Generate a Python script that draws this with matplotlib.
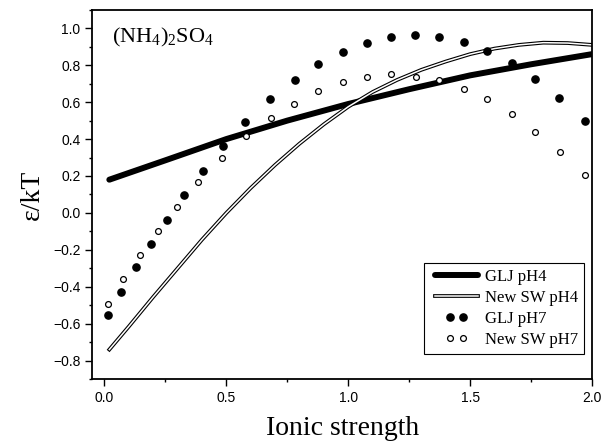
import numpy as np
import matplotlib.pyplot as plt
import matplotlib.patheffects as pe
from matplotlib.ticker import MultipleLocator
from matplotlib.legend_handler import HandlerLine2D

plt.rcParams['mathtext.fontset'] = 'custom'
plt.rcParams['mathtext.rm'] = 'Liberation Serif'
plt.rcParams['font.family'] = 'Liberation Sans'

# GLJ pH4 (thick solid line)
glj4_x = [0.02, 0.25, 0.5, 0.75, 1.0, 1.25, 1.5, 1.75, 2.0]
glj4_y = [0.18, 0.285, 0.40, 0.50, 0.59, 0.67, 0.745, 0.805, 0.86]

# New SW pH4 (hollow double line)
sw4_x = [0.02, 0.1, 0.2, 0.3, 0.4, 0.5, 0.6, 0.7, 0.8, 0.9, 1.0,
         1.1, 1.2, 1.3, 1.4, 1.5, 1.6, 1.7, 1.8, 1.9, 2.0]
sw4_y = [-0.74, -0.615, -0.455, -0.30, -0.145, 0.0, 0.135, 0.26, 0.375, 0.48, 0.575,
         0.655, 0.72, 0.775, 0.82, 0.86, 0.89, 0.91, 0.922, 0.92, 0.91]

# GLJ pH7 (filled dots)
glj7_x = [0.014, 0.068, 0.130, 0.189, 0.256, 0.327, 0.404, 0.486, 0.575, 0.678,
          0.780, 0.876, 0.979, 1.075, 1.175, 1.273, 1.373, 1.474, 1.570, 1.673,
          1.767, 1.866, 1.970]
glj7_y = [-0.555, -0.428, -0.294, -0.166, -0.036, 0.096, 0.228, 0.362, 0.492, 0.619,
          0.720, 0.805, 0.872, 0.922, 0.953, 0.964, 0.953, 0.926, 0.877, 0.814,
          0.723, 0.624, 0.497]

# New SW pH7 (hollow dots)
sw7_x = [0.016, 0.078, 0.146, 0.219, 0.298, 0.385, 0.482, 0.579, 0.682, 0.776,
         0.876, 0.979, 1.075, 1.177, 1.277, 1.373, 1.474, 1.570, 1.673, 1.766,
         1.869, 1.971]
sw7_y = [-0.491, -0.357, -0.229, -0.097, 0.031, 0.167, 0.295, 0.416, 0.516, 0.592,
         0.660, 0.709, 0.736, 0.751, 0.738, 0.718, 0.673, 0.615, 0.534, 0.440,
         0.329, 0.203]

fig = plt.figure(figsize=(6.11, 4.46), dpi=100)
ax = fig.add_axes([0.151, 0.150, 0.818, 0.828])

ax.plot(glj4_x, glj4_y, color='black', lw=4.3, solid_capstyle='round', label='GLJ pH4')
ax.plot(sw4_x, sw4_y, color='white', lw=1.1, label='New SW pH4',
        path_effects=[pe.Stroke(linewidth=2.7, foreground='black'), pe.Normal()])
d7, = ax.plot(glj7_x, glj7_y, ls='none', marker='o', ms=5.2, color='black', label='GLJ pH7')
s7, = ax.plot(sw7_x, sw7_y, ls='none', marker='o', ms=4.2, mfc='white', mec='black',
              mew=0.9, label='New SW pH7')

ax.set_xlim(-0.05, 2.0)
ax.set_ylim(-0.9, 1.1)
ax.xaxis.set_minor_locator(MultipleLocator(0.25))
ax.yaxis.set_minor_locator(MultipleLocator(0.1))
ax.set_yticks(np.arange(-0.8, 1.01, 0.2))
ax.set_xticks([0.0, 0.5, 1.0, 1.5, 2.0])
ax.tick_params(which='major', direction='out', length=5, width=1, labelsize=10)
ax.tick_params(which='minor', direction='out', length=2.5, width=1)
ax.tick_params(top=False, right=False)
for s in ax.spines.values():
    s.set_linewidth(1.3)

ax.set_xlabel('Ionic strength', family='Liberation Serif', fontsize=20, labelpad=8)
ax.set_ylabel('ε/kT', family='Liberation Serif', fontsize=20, labelpad=6)

ax.text(0.04, 0.955, r'$\mathrm{(NH_4)_2SO_4}$', transform=ax.transAxes,
        fontsize=16, va='top', ha='left')

hmap = {d7: HandlerLine2D(numpoints=2, marker_pad=1.2),
        s7: HandlerLine2D(numpoints=2, marker_pad=1.2)}
leg = ax.legend(loc='lower right', bbox_to_anchor=(0.99, 0.06), numpoints=2,
                handler_map=hmap,
                prop={'family': 'Liberation Serif', 'size': 12},
                fancybox=False, edgecolor='black', framealpha=1,
                handlelength=3.2, handletextpad=0.1, borderpad=0.35, labelspacing=0.3,
                borderaxespad=0.2)
leg.get_frame().set_linewidth(0.8)

fig.savefig('out.png', dpi=100)
